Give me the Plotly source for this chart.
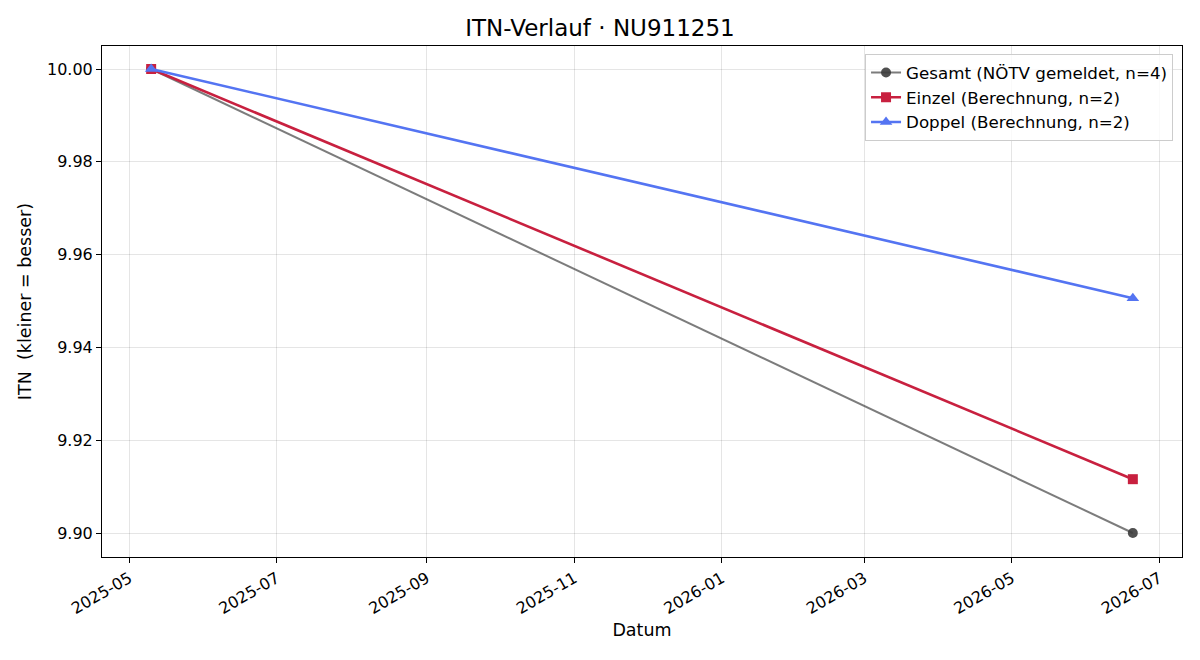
import plotly.graph_objects as go

dates = ["2025-05-10", "2026-06-20"]
gesamt = [10.00, 9.90]
einzel = [10.00, 9.9116]
doppel = [10.00, 9.9506]

x_tick_vals = ["2025-05-01", "2025-07-01", "2025-09-01", "2025-11-01",
               "2026-01-01", "2026-03-01", "2026-05-01", "2026-07-01"]
x_tick_text = ["2025-05", "2025-07", "2025-09", "2025-11",
               "2026-01", "2026-03", "2026-05", "2026-07"]

font = "DejaVu Sans"
fig = go.Figure()
fig.add_trace(go.Scatter(
    x=dates, y=gesamt, mode="lines+markers", name="Gesamt (NÖTV gemeldet, n=4)",
    line=dict(color="rgba(68,68,68,0.7)", width=2),
    marker=dict(symbol="circle", size=10, color="rgba(60,60,60,0.9)")))
fig.add_trace(go.Scatter(
    x=dates, y=einzel, mode="lines+markers", name="Einzel (Berechnung, n=2)",
    line=dict(color="#c8203f", width=2.6),
    marker=dict(symbol="square", size=10, color="#c8203f")))
fig.add_trace(go.Scatter(
    x=dates, y=doppel, mode="lines+markers", name="Doppel (Berechnung, n=2)",
    line=dict(color="#5474f2", width=2.6),
    marker=dict(symbol="triangle-up", size=11, color="#5474f2")))

axis_common = dict(showline=True, linecolor="black", linewidth=1, mirror=True,
                   ticks="outside", ticklen=5, tickcolor="black",
                   showgrid=True, gridcolor="rgba(0,0,0,0.1)", gridwidth=1,
                   zeroline=False, automargin=False,
                   tickfont=dict(family=font, size=16, color="black"))

fig.update_layout(
    width=1200, height=660,
    paper_bgcolor="white", plot_bgcolor="white",
    margin=dict(l=102, r=18, t=46, b=103),
    font=dict(family=font, color="black", size=16),
    title=dict(text="ITN-Verlauf · NU911251", x=0.5, xanchor="center",
               y=1 - 28 / 660, yanchor="middle",
               font=dict(family=font, size=23, color="black")),
    xaxis=dict(**axis_common, type="date",
               range=["2025-04-19 16:00", "2026-07-10 08:00"],
               tickvals=x_tick_vals, ticktext=x_tick_text, tickangle=-30,
               title=dict(text="Datum", font=dict(family=font, size=17.5), standoff=6)),
    yaxis=dict(**axis_common, range=[9.89483, 10.00496], dtick=0.02,
               tickformat=".2f",
               title=dict(text="ITN  (kleiner = besser)", font=dict(family=font, size=17.5), standoff=10)),
    legend=dict(x=0.9917, xanchor="right", y=0.984, yanchor="top",
                bgcolor="rgba(255,255,255,0.8)", bordercolor="#cccccc", borderwidth=1,
                font=dict(family=font, size=16.7, color="black")),
    showlegend=True,
)

fig.write_html("out.html")
